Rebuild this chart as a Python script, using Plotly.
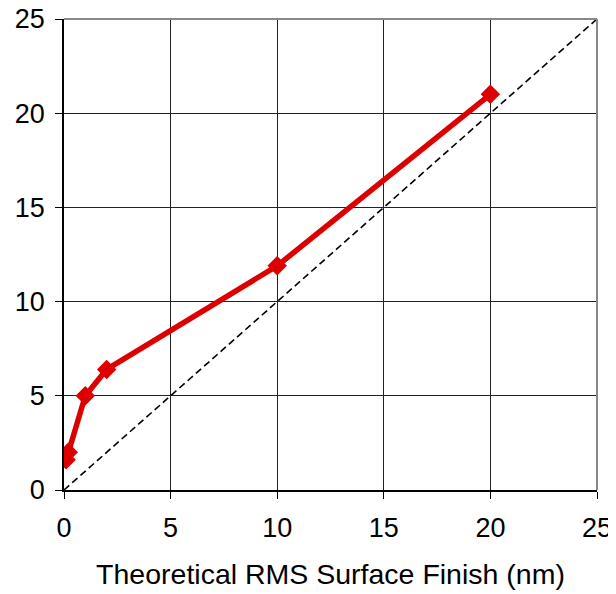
import plotly.graph_objects as go

x_meas = [0.1, 0.2, 1, 2, 10, 20]
y_meas = [1.6, 2.0, 5.0, 6.4, 11.9, 21.0]
ref_x = [0, 25]
ref_y = [0, 25]
ticks = [0, 5, 10, 15, 20, 25]
x_title = "Theoretical RMS Surface Finish (nm)"

fig = go.Figure()
fig.add_trace(go.Scatter(x=ref_x, y=ref_y, mode="lines",
                         line=dict(color="black", width=1.6, dash="7px,4px"),
                         showlegend=False, hoverinfo="skip"))
fig.add_trace(go.Scatter(x=x_meas, y=y_meas, mode="lines+markers",
                         line=dict(color="#dd0000", width=5.5),
                         marker=dict(symbol="diamond", size=15, color="#dd0000"),
                         showlegend=False))

font = dict(family="Liberation Sans, Arial, sans-serif", size=27, color="black")
tfont = dict(family="Liberation Sans, Arial, sans-serif", size=28.5, color="black")
# page body has an 8px default margin; margins below compensate for it
fig.update_layout(
    width=616, height=594,
    margin=dict(l=56, r=27, t=11, b=112),
    plot_bgcolor="white", paper_bgcolor="white",
    font=font,
    xaxis=dict(range=[0, 25], tickvals=ticks, showgrid=True, gridcolor="#222", gridwidth=1,
               showline=True, linecolor="black", linewidth=1.5, ticks="outside", ticklen=7,
               tickcolor="black", zeroline=False, automargin=False,
               title=dict(text=x_title, standoff=22, font=tfont),
               tickfont=font, ticklabelstandoff=6, ticklabeloverflow="allow"),
    yaxis=dict(range=[0, 25], tickvals=ticks, showgrid=True, gridcolor="#222", gridwidth=1,
               showline=True, linecolor="black", linewidth=1.5, ticks="outside", ticklen=7,
               tickcolor="black", zeroline=False, automargin=False, tickfont=font,
               ticklabelstandoff=5, ticklabeloverflow="allow"),
    shapes=[dict(type="line", xref="paper", yref="paper", x0=0, x1=1, y0=1, y1=1,
                 line=dict(color="#888", width=2)),
            dict(type="line", xref="paper", yref="paper", x0=1, x1=1, y0=0, y1=1,
                 line=dict(color="#888", width=2))],
)
fig.write_html("out.html")
